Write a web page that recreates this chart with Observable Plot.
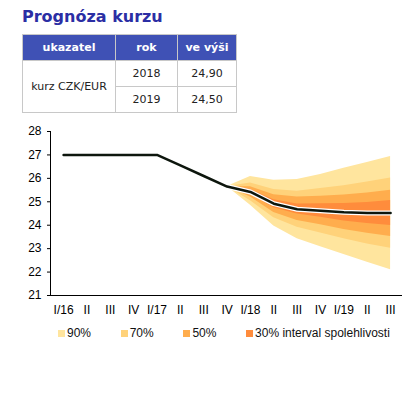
<!DOCTYPE html>
<html>
<head>
<meta charset="utf-8">
<script src="https://cdn.jsdelivr.net/npm/d3@7"></script>
<script src="https://cdn.jsdelivr.net/npm/@observablehq/plot@0.6"></script>
<style>
  html, body { margin: 0; padding: 0; background: #ffffff; }
  #page { position: relative; width: 416px; height: 394px; overflow: hidden; background: #ffffff; }
  #title { position: absolute; left: 22px; top: 3px; font-family: "DejaVu Sans", Verdana, sans-serif; font-weight: bold; font-size: 16px; line-height: 28px; color: #2b2ea4; white-space: nowrap; }
  #tbl { position: absolute; left: 22px; top: 34px; border-collapse: collapse; font-family: "DejaVu Sans", Verdana, sans-serif; font-size: 11px; color: #222; }
  #tbl th, #tbl td { border: 1px solid #c8c8c8; text-align: center; padding: 0; height: 25px; }
  #tbl th { background: #3f51b5; color: #ffffff; font-weight: bold; border-color: #c8c8c8; }
  #chart { position: absolute; left: 0; top: 120px; }
  #legend { position: absolute; left: 0; top: 324px; width: 416px; height: 18px; font-family: "Liberation Sans", Arial, sans-serif; font-size: 12px; color: #111; }
  .li { position: absolute; top: 0; white-space: nowrap; line-height: 18px; }
  .sw { display: inline-block; width: 7px; height: 7px; margin-right: 2px; vertical-align: 0px; }
</style>
</head>
<body>
<div id="page">
  <div id="title"></div>
  <table id="tbl"></table>
  <div id="chart"></div>
  <div id="legend"></div>
</div>
<script>
// ---- data ----
const titleText = "Prognóza kurzu";
const tableHeader = ["ukazatel", "rok", "ve výši"];
const tableIndicator = "kurz CZK/EUR";
const tableYears = ["2018", "2019"];
const tableValues = ["24,90", "24,50"];

const quarters = ["I/16","II","III","IV","I/17","II","III","IV","I/18","II","III","IV","I/19","II","III"];
const rate = [27.0, 27.0, 27.0, 27.0, 27.0, 26.55, 26.1, 25.65, 25.42, 24.92, 24.68, 24.62, 24.55, 24.52, 24.52];

// fan chart (quarter indices IV/17 .. III/19)
const fanQ  = [7, 8, 9, 10, 11, 12, 13, 14];
const hi90 = [25.65, 26.08, 25.92, 25.95, 26.16, 26.43, 26.68, 26.93];
const lo90 = [25.65, 24.85, 23.97, 23.42, 23.08, 22.75, 22.42, 22.10];
const hi70 = [25.65, 25.80, 25.52, 25.45, 25.57, 25.68, 25.84, 26.02];
const lo70 = [25.65, 25.04, 24.32, 23.91, 23.67, 23.42, 23.20, 23.02];
const hi50 = [25.65, 25.64, 25.30, 25.20, 25.24, 25.29, 25.37, 25.49];
const lo50 = [25.65, 25.20, 24.54, 24.20, 24.02, 23.82, 23.66, 23.52];
const hi30 = [25.65, 25.52, 25.09, 24.91, 24.92, 24.93, 24.97, 25.05];
const lo30 = [25.65, 25.32, 24.75, 24.48, 24.34, 24.18, 24.07, 23.99];

const yTicks = [21, 22, 23, 24, 25, 26, 27, 28];
const legendLabels = ["90%", "70%", "50%", "30% interval spolehlivosti"];
const bandColors = ["#ffe59e", "#ffd27a", "#ffad4d", "#ff8c3c"];

// ---- title & table ----
document.getElementById("title").textContent = titleText;
const tbl = document.getElementById("tbl");
const colW = [92, 61, 58];
let html = "<tr>" + tableHeader.map((h, i) => `<th style="width:${colW[i]}px">${h}</th>`).join("") + "</tr>";
tableYears.forEach((yr, i) => {
  html += "<tr>";
  if (i === 0) html += `<td rowspan="${tableYears.length}">${tableIndicator}</td>`;
  html += `<td>${yr}</td><td>${tableValues[i]}</td></tr>`;
});
tbl.innerHTML = html;

// ---- chart ----
const rateRows = rate.map((v, i) => ({q: i, v}));
const fanRows = fanQ.map((q, i) => ({q, hi90: hi90[i], lo90: lo90[i], hi70: hi70[i], lo70: lo70[i], hi50: hi50[i], lo50: lo50[i], hi30: hi30[i], lo30: lo30[i]}));
const xDomain = [-0.56, quarters.length - 1 + 0.51];

const chart = Plot.plot({
  width: 416,
  height: 200,
  marginLeft: 50,
  marginRight: 14,
  marginTop: 11,
  marginBottom: 25,
  style: {fontFamily: "'Liberation Sans', Arial, sans-serif", fontSize: "12px", color: "#000", background: "#ffffff", overflow: "visible"},
  x: {domain: xDomain, ticks: d3.range(quarters.length), tickFormat: i => quarters[i], tickSize: 0, tickPadding: 10, label: null},
  y: {domain: [yTicks[0], yTicks[yTicks.length - 1]], ticks: yTicks, tickFormat: d => String(d), tickSize: 3, tickPadding: 6, label: null},
  marks: [
    Plot.areaY(fanRows, {x: "q", y1: "lo90", y2: "hi90", fill: bandColors[0]}),
    Plot.areaY(fanRows, {x: "q", y1: "lo70", y2: "hi70", fill: bandColors[1]}),
    Plot.areaY(fanRows, {x: "q", y1: "lo50", y2: "hi50", fill: bandColors[2]}),
    Plot.areaY(fanRows, {x: "q", y1: "lo30", y2: "hi30", fill: bandColors[3]}),
    Plot.lineY(rateRows, {x: "q", y: "v", stroke: "#ffffff", strokeWidth: 5}),
    Plot.lineY(rateRows, {x: "q", y: "v", stroke: "#0d160d", strokeWidth: 2.5}),
    Plot.ruleX([xDomain[0]], {stroke: "#000", strokeWidth: 1}),
    Plot.ruleY([yTicks[0]], {stroke: "#000", strokeWidth: 1})
  ]
});
document.getElementById("chart").appendChild(chart);

// ---- legend ----
const legend = document.getElementById("legend");
legendLabels.forEach((lab, i) => {
  const d = document.createElement("div");
  d.className = "li";
  d.style.left = (58 + i * 62.7) + "px";
  d.innerHTML = `<span class="sw" style="background:${bandColors[i]}"></span>${lab}`;
  legend.appendChild(d);
});
</script>
</body>
</html>
